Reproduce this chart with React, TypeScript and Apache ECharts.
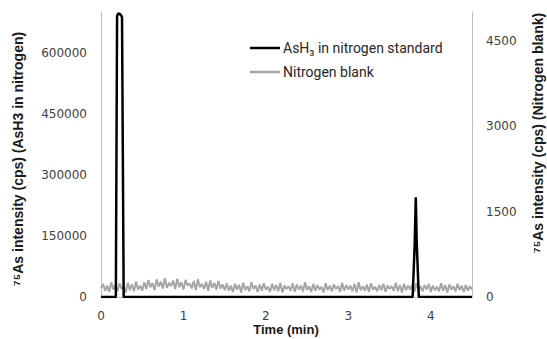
import React, { useEffect, useRef } from "react";
import * as echarts from "echarts";

// Time axis ticks (min)
const timeTicks = [0, 1, 2, 3, 4];

// AsH3 in nitrogen standard: [time (min), intensity (cps)] on left axis
const ashTimes = [0, 0.18, 0.195, 0.21, 0.235, 0.255, 0.275, 3.78, 3.805, 3.818, 3.83, 3.855, 4.5];
const ashValues = [0, 0, 690000, 697000, 694000, 688000, 0, 0, 130000, 245000, 130000, 0, 0];

// Nitrogen blank: sampled every 0.025 min from 0 to 4.5 (cps, right axis)
const blankStep = 0.025;
const blankValues = [
  150, 230, 110, 200, 90, 260, 130, 210, 100, 240, 140, 190, 80, 250, 120, 220, 100, 270, 130, 200, 110,
  260, 140, 300, 170, 240, 120, 310, 180, 270, 150, 330, 160, 250, 190, 290, 140, 320, 170, 260, 130,
  300, 200, 240, 150, 280, 120, 310, 170, 230, 140, 270, 110, 290, 160, 250, 130, 280, 150, 220, 120,
  240, 110, 200, 90, 230, 130, 210, 80, 250, 120, 190, 100, 260, 140, 200, 90, 220, 110, 240, 130,
  180, 90, 230, 120, 210, 100, 250, 80, 200, 140, 190, 110, 240, 90, 220, 130, 200, 100, 260, 120,
  190, 90, 230, 110, 210, 130, 180, 80, 240, 120, 200, 100, 220, 140, 190, 90, 250, 110, 210, 130,
  200, 100, 230, 80, 260, 120, 190, 110, 220, 90, 240, 130, 180, 100, 210, 120, 230, 90, 200, 140,
  190, 110, 250, 100, 210, 80, 230, 120, 200, 130, 220, 90, 240, 110, 190, 100, 210, 130, 230, 90,
  200, 120, 180, 100, 240, 110, 210, 80, 220, 130, 190, 100, 230, 120, 200, 90, 210, 110, 190, 130,
];

const leftTicks = [0, 150000, 300000, 450000, 600000];
const rightTicks = [0, 1500, 3000, 4500];

const leftTitle = "⁷⁵As intensity (cps) (AsH3 in nitrogen)";
const rightTitle = "⁷⁵As intensity (cps) (Nitrogen blank)";
const xTitle = "Time (min)";

export default function App() {
  const ref = useRef<HTMLDivElement>(null);
  useEffect(() => {
    if (!ref.current) return;
    const el = ref.current;
    const chart = echarts.init(el, null, { renderer: "svg" });
    const ashData = ashTimes.map((t, i) => [t, ashValues[i]]);
    const blankData = blankValues.map((v, i) => [Math.round(i * blankStep * 1000) / 1000, v]);
    const axisLabel = { color: "#404040", fontSize: 12, fontFamily: "DejaVu Sans" };
    const titleStyle = { fill: "#1a1a1a", fontSize: 14, fontWeight: "bold", fontFamily: "Liberation Sans", align: "center", verticalAlign: "middle" };
    chart.setOption({
      animation: false,
      backgroundColor: "#ffffff",
      grid: { left: 101, right: 75, top: 12, bottom: 42, containLabel: false, outerBoundsMode: "none" },
      legend: {
        left: 245,
        top: 36,
        orient: "vertical",
        icon: "rect",
        itemWidth: 30,
        itemHeight: 2.5,
        itemGap: 10,
        textStyle: { fontSize: 14, fontFamily: "Roboto", color: "#262626", padding: [0, 0, 0, -2] },
        data: ["AsH₃ in nitrogen standard", "Nitrogen blank"],
      },
      graphic: [
        { type: "text", x: 18, y: 159, rotation: Math.PI / 2, style: { text: leftTitle, ...titleStyle } },
        { type: "text", x: 538, y: 133, rotation: Math.PI / 2, style: { text: rightTitle, ...titleStyle } },
        { type: "text", x: 286, y: 329, style: { text: xTitle, ...titleStyle, fontSize: 13 } },
      ],
      xAxis: {
        type: "value",
        min: timeTicks[0],
        max: 4.5,
        interval: 1,
        axisLine: { show: true, lineStyle: { color: "#bfbfbf", width: 1 } },
        axisTick: { show: false },
        splitLine: { show: false },
        axisLabel: { ...axisLabel, margin: 13, showMaxLabel: false },
      },
      yAxis: [
        {
          type: "value",
          min: leftTicks[0],
          max: 700000,
          interval: leftTicks[1] - leftTicks[0],
          axisLine: { show: true, lineStyle: { color: "#bfbfbf", width: 1 } },
          axisTick: { show: false },
          splitLine: { show: false },
          axisLabel: { ...axisLabel, margin: 14, showMaxLabel: false, formatter: (v: number) => String(v) },
        },
        {
          type: "value",
          position: "right",
          min: rightTicks[0],
          max: 5000,
          interval: rightTicks[1] - rightTicks[0],
          axisLine: { show: true, lineStyle: { color: "#bfbfbf", width: 1 } },
          axisTick: { show: false },
          splitLine: { show: false },
          axisLabel: { ...axisLabel, margin: 14, showMaxLabel: false, formatter: (v: number) => String(v) },
        },
      ],
      series: [
        {
          name: "Nitrogen blank",
          type: "line",
          yAxisIndex: 1,
          data: blankData,
          symbol: "none",
          lineStyle: { color: "#a6a6a6", width: 2 },
          itemStyle: { color: "#a6a6a6" },
          z: 2,
        },
        {
          name: "AsH₃ in nitrogen standard",
          type: "line",
          yAxisIndex: 0,
          data: ashData,
          symbol: "none",
          lineStyle: { color: "#000000", width: 2.5 },
          itemStyle: { color: "#000000" },
          z: 3,
        },
      ],
    });
    return () => chart.dispose();
  }, []);
  return <div ref={ref} style={{ position: "fixed", left: 0, top: 0, width: 547, height: 339 }} />;
}
